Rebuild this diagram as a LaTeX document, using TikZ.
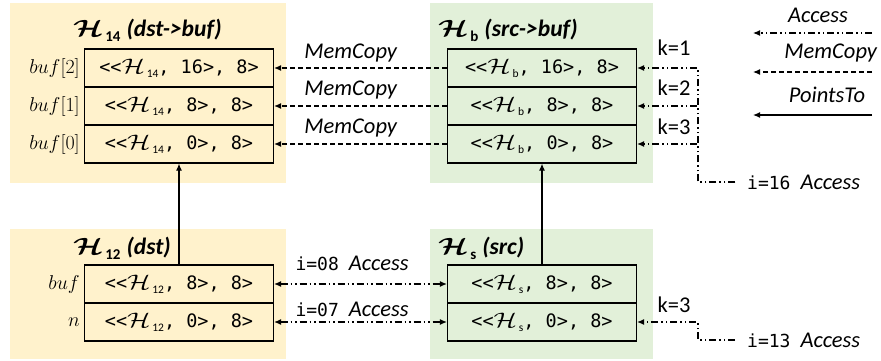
\documentclass[tikz,border=0pt]{standalone}
\usepackage{fix-cm}
\usepackage{bm}
\usepackage[no-math]{fontspec}
\setmainfont{Carlito}
\setmonofont{DejaVu Sans Mono}
\usetikzlibrary{arrows.meta}
\definecolor{panelY}{HTML}{FFF2CC}
\definecolor{panelG}{HTML}{E2F0D9}
% script H used inside the cells
\newcommand{\cellHsym}{\scalebox{1.3}[1]{\fontsize{21}{21}\selectfont$\mathcal{H}$}}
% cell content: <<H_sub, off>, size>
\newcommand{\cellH}[2]{{\ttfamily<<\cellHsym\raisebox{-4pt}{\fontsize{11.5}{11.5}\rmfamily\,#1}, #2>, 8>}}
% object title: bold H with subscript and an italic name
\newcommand{\objT}[2]{\scalebox{1.3}[1]{$\bm{\mathcal{H}}$}\raisebox{-5pt}{\fontsize{15}{15}\bfseries\kern2pt#1}\kern6pt\textbf{\textit{#2}}}
\newcommand{\mono}[1]{{\fontsize{18}{20}\ttfamily #1}}
% access label: instruction index, then the kind
\newcommand{\acc}[1]{\mono{i=#1}\kern10pt\textit{Access}}
\tikzset{
  cellbox/.style={draw, line width=1.2pt, minimum width=189pt, minimum height=38pt,
    inner sep=0pt, font=\fontsize{18.5}{21}\selectfont},
  panelY/.style={fill=panelY, draw=none},
  panelG/.style={fill=panelG, draw=none},
  ttl/.style={anchor=west, inner sep=0pt, font=\fontsize{23.5}{27}\selectfont},
  rowlbl/.style={anchor=east, inner sep=4pt, font=\fontsize{20}{24}\selectfont},
  lbl/.style={inner sep=0pt, font=\fontsize{22.5}{26}\selectfont},
  tip/.style={-{Latex[length=7pt,width=6pt]}},
  access/.style={tip, line width=1.1pt, dash pattern=on 7pt off 3pt on 1.5pt off 3pt on 1.5pt off 3pt},
  memcopy/.style={tip, line width=1.1pt, dash pattern=on 5pt off 3pt},
  pointsto/.style={tip, line width=1.2pt},
}
\begin{document}
\begin{tikzpicture}[x=1pt, y=-1pt]
\useasboundingbox (0,0) rectangle (881,360);

% background panels
\fill[panelY] (10,3) rectangle (286,183);
\fill[panelG] (430,3) rectangle (653,183);
\fill[panelY] (10,229) rectangle (286,359);
\fill[panelG] (430,229) rectangle (653,359);

% titles
\node[ttl] (t14) at (73,30) {\objT{14}{(dst->buf)}};
\node[ttl] (tb) at (438,30) {\objT{b}{(src->buf)}};
\node[ttl] (t12) at (73,248) {\objT{12}{(dst)}};
\node[ttl] (ts) at (438,248) {\objT{s}{(src)}};

% H14 cells
\node[cellbox] (d2) at (179,68) {\cellH{14}{16}};
\node[cellbox] (d1) at (179,106) {\cellH{14}{8}};
\node[cellbox] (d0) at (179,144) {\cellH{14}{0}};
\node[rowlbl] (ld2) at (d2.west) {$buf[2]$};
\node[rowlbl] (ld1) at (d1.west) {$buf[1]$};
\node[rowlbl] (ld0) at (d0.west) {$buf[0]$};

% Hb cells
\node[cellbox] (b2) at (542,68) {\cellH{b}{16}};
\node[cellbox] (b1) at (542,106) {\cellH{b}{8}};
\node[cellbox] (b0) at (542,144) {\cellH{b}{0}};

% H12 cells
\node[cellbox] (p1) at (179,284) {\cellH{12}{8}};
\node[cellbox] (p0) at (179,322) {\cellH{12}{0}};
\node[rowlbl] (lp1) at (p1.west) {$buf$};
\node[rowlbl] (lp0) at (p0.west) {$n$};

% Hs cells
\node[cellbox] (s1) at (542,284) {\cellH{s}{8}};
\node[cellbox] (s0) at (542,322) {\cellH{s}{0}};

% points-to edges
\draw[pointsto] (p1.north) -- (d0.south);
\draw[pointsto] (s1.north) -- (b0.south);

% memcopy edges
\draw[memcopy] (b2.west) -- (d2.east);
\draw[memcopy] (b1.west) -- (d1.east);
\draw[memcopy] (b0.west) -- (d0.east);
\node[lbl] (m2) at (351,53) {\textit{MemCopy}};
\node[lbl] (m1) at (351,90) {\textit{MemCopy}};
\node[lbl] (m0) at (351,128) {\textit{MemCopy}};

% accesses between dst and src
\draw[access, {Latex[length=7pt,width=6pt]}-{Latex[length=7pt,width=6pt]}] (p1.east) -- (s1.west);
\draw[access, {Latex[length=7pt,width=6pt]}-{Latex[length=7pt,width=6pt]}] (p0.east) -- (s0.west);
\node[lbl] (a8) at (352,263) {\acc{08}};
\node[lbl] (a7) at (352,309) {\acc{07}};

% access i=16 into Hb
\coordinate (e16) at (735,182);
\coordinate (c16) at (698,182);
\node[lbl, anchor=west] (i16) at (747,182) {\acc{16}};
\draw[access] (e16) -- (c16) |- (b2.east);
\draw[access] (e16) -- (c16) |- (b1.east);
\draw[access] (e16) -- (c16) |- (b0.east);
\node[lbl] (k1) at (674,48) {k=1};
\node[lbl] (k2) at (674,88) {k=2};
\node[lbl] (k3) at (674,127) {k=3};

% access i=13 into Hs
\coordinate (e13) at (735,340);
\coordinate (c13) at (698,340);
\node[lbl, anchor=west] (i13) at (747,340) {\acc{13}};
\draw[access] (e13) -- (c13) |- (s0.east);
\node[lbl] (k3s) at (674,305) {k=3};

% legend
\coordinate (la0) at (872,33);  \coordinate (la1) at (753,33);
\coordinate (lm0) at (872,72);  \coordinate (lm1) at (753,72);
\coordinate (lp0) at (872,115); \coordinate (lp1) at (753,115);
\draw[access] (la0) -- (la1);
\draw[memcopy] (lm0) -- (lm1);
\draw[pointsto] (lp0) -- (lp1);
\node[lbl] (ga) at (818,15) {\textit{Access}};
\node[lbl] (gm) at (831,53) {\textit{MemCopy}};
\node[lbl] (gp) at (827,95) {\textit{PointsTo}};
\end{tikzpicture}
\end{document}
